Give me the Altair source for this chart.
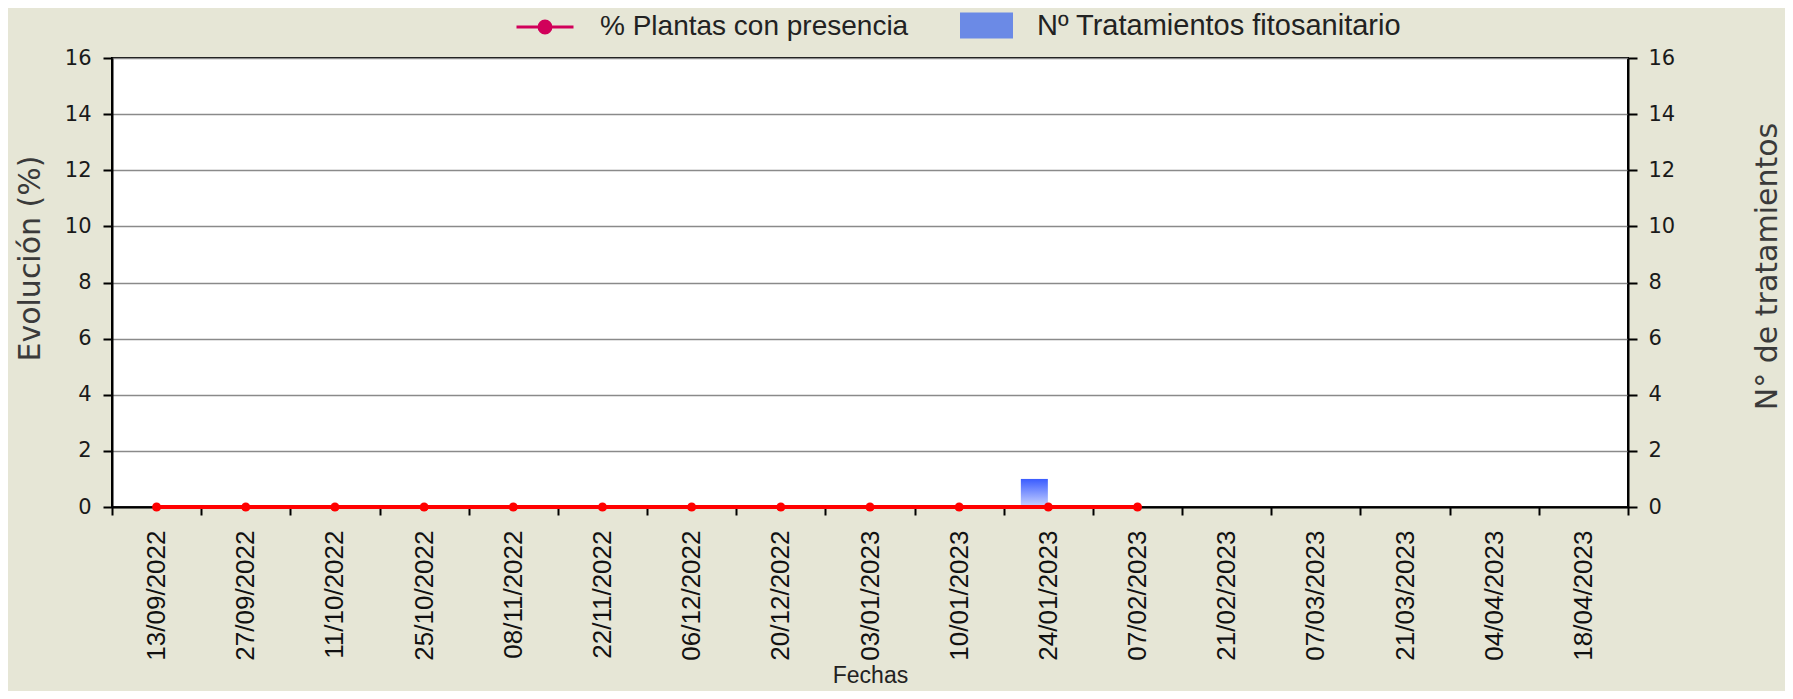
import altair as alt
import pandas as pd

# ---- data ----
fechas = ["13/09/2022", "27/09/2022", "11/10/2022", "25/10/2022", "08/11/2022",
          "22/11/2022", "06/12/2022", "20/12/2022", "03/01/2023", "10/01/2023",
          "24/01/2023", "07/02/2023", "21/02/2023", "07/03/2023", "21/03/2023",
          "04/04/2023", "18/04/2023"]
plantas_pct = [0, 0, 0, 0, 0, 0, 0, 0, 0, 0, 0, 0, None, None, None, None, None]
tratamientos = [0, 0, 0, 0, 0, 0, 0, 0, 0, 0, 1, 0, None, None, None, None, None]
serie_linea = "% Plantas con presencia"
serie_barra = "Nº Tratamientos fitosanitario"
ticks_y = [0, 2, 4, 6, 8, 10, 12, 14, 16]

df = pd.DataFrame({"Fecha": fechas, "Plantas": plantas_pct, "Tratamientos": tratamientos})
base = alt.Chart(df)

x_enc = alt.X(
    "Fecha:N",
    scale=alt.Scale(type="band", domain=fechas, paddingInner=0, paddingOuter=0),
    axis=alt.Axis(
        title="Fechas", labelAngle=-90, labelFont="Liberation Sans", labelFontSize=26,
        labelColor="#111111", labelPadding=15, tickBand="extent", tickSize=8,
        tickWidth=2, tickColor="black", domainColor="black", domainWidth=2, grid=False,
        titleFont="Liberation Sans", titleFontSize=23, titleFontWeight="normal",
        titleColor="#222222", titleY=175, titleBaseline="alphabetic",
        labelOverlap=False,
    ),
)

y_left = alt.Y(
    "Plantas:Q",
    scale=alt.Scale(domain=[0, 16], nice=False),
    axis=alt.Axis(
        title="Evolución (%)", values=ticks_y, orient="left",
        labelFont="DejaVu Sans", labelFontSize=21, labelColor="#1a1a1a", labelPadding=12,
        tickSize=9, tickWidth=2, tickColor="black", domainColor="black", domainWidth=2,
        grid=True, gridColor="#8a8a8a", gridWidth=1.5,
        titleFont="DejaVu Sans", titleFontSize=30, titleFontWeight="normal",
        titleColor="#3a3a3a", titleAngle=-90, titleX=-73, titleY=200,
        titleBaseline="alphabetic", titleAlign="center",
    ),
)

y_right = alt.Y(
    "Tratamientos:Q",
    scale=alt.Scale(domain=[0, 16], nice=False),
    axis=alt.Axis(
        title="N° de tratamientos", values=ticks_y, orient="right",
        labelFont="DejaVu Sans", labelFontSize=21, labelColor="#1a1a1a", labelPadding=11,
        tickSize=9, tickWidth=2, tickColor="black", domainColor="black", domainWidth=2,
        grid=False,
        titleFont="DejaVu Sans", titleFontSize=30, titleFontWeight="normal",
        titleColor="#3a3a3a", titleAngle=-90, titleX=148, titleY=208,
        titleBaseline="alphabetic", titleAlign="center",
    ),
)

linea = base.mark_line(color="#ff0000", strokeWidth=4).encode(x=x_enc, y=y_left)
puntos = base.mark_point(filled=True, size=80, color="#ff0000", opacity=1).encode(
    x=x_enc, y=y_left)

simbolo_linea = ("M-1,0L1,0"
                 "M0.21,0A0.21,0.21,0,1,1,-0.21,0A0.21,0.21,0,1,1,0.21,0"
                 "M0.11,0A0.11,0.11,0,1,1,-0.11,0A0.11,0.11,0,1,1,0.11,0"
                 "M0.03,0A0.03,0.03,0,1,1,-0.03,0A0.03,0.03,0,1,1,0.03,0")
leyenda_linea = base.transform_calculate(serie=f"'{serie_linea}'").transform_filter(
    "false").mark_line(strokeWidth=3).encode(
    x=x_enc, y=y_left,
    stroke=alt.Stroke(
        "serie:N",
        scale=alt.Scale(domain=[serie_linea], range=["#d1005a"]),
        legend=alt.Legend(
            title=None, orient="none", legendX=403, legendY=-61, padding=0,
            symbolType=simbolo_linea, symbolSize=3249, symbolStrokeWidth=3,
            labelFont="Liberation Sans", labelFontSize=28, labelColor="#222222",
            labelOffset=25, labelLimit=600,
        ),
    ),
)

gradiente = alt.Gradient(
    gradient="linear", x1=0, x2=0, y1=0, y2=1,
    stops=[alt.GradientStop(color="#3a5cff", offset=0),
           alt.GradientStop(color="#cbd5ff", offset=1)],
)
barras = base.mark_bar(fill=gradiente, size=27, xOffset=-14).encode(x=x_enc, y=y_right)

leyenda_barra = base.transform_calculate(serie=f"'{serie_barra}'").transform_filter(
    "false").mark_bar().encode(
    x=x_enc, y=y_right,
    fill=alt.Fill(
        "serie:N",
        scale=alt.Scale(domain=[serie_barra], range=["#6b8ae6"]),
        legend=alt.Legend(
            title=None, orient="none", legendX=848, legendY=-59, padding=0,
            symbolType="M-1,-0.49L1,-0.49L1,0.49L-1,0.49Z", symbolSize=2809,
            symbolStrokeWidth=0,
            labelFont="Liberation Sans", labelFontSize=29, labelColor="#222222",
            labelOffset=24, labelLimit=600,
        ),
    ),
)

izquierda = alt.layer(linea, puntos, leyenda_linea)
derecha = alt.layer(barras, leyenda_barra)

chart = alt.layer(derecha, izquierda).resolve_scale(y="independent").properties(
    width=1516, height=449, background="#e6e6d6",
    padding={"left": 104, "top": 50, "right": 157, "bottom": 184},
    autosize=alt.AutoSizeParams(type="none"),
).configure_view(fill="white", stroke="black", strokeWidth=2)

chart.save("out.html", embed_options={"renderer": "svg", "actions": False})
